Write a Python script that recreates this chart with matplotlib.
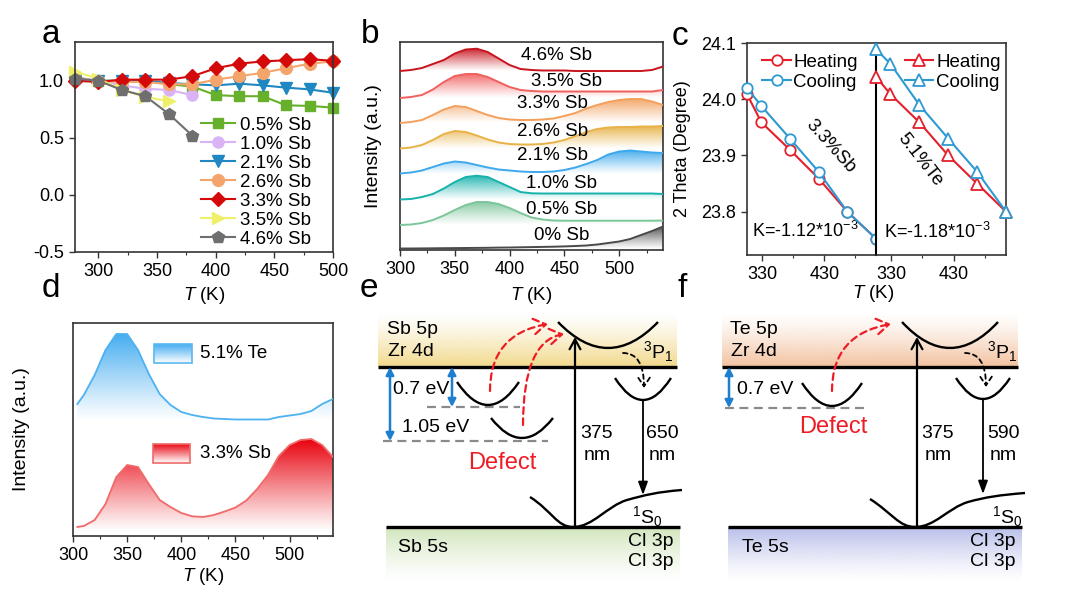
import numpy as np
import matplotlib
matplotlib.use('Agg')
import matplotlib.pyplot as plt
from matplotlib.path import Path
from matplotlib.patches import PathPatch, FancyArrowPatch, Rectangle
from matplotlib.colors import to_rgb
from matplotlib.ticker import MultipleLocator, FormatStrFormatter, FixedLocator

plt.rcParams['font.family'] = ['Liberation Sans', 'DejaVu Sans']
plt.rcParams['mathtext.fontset'] = 'custom'
plt.rcParams['mathtext.rm'] = 'Liberation Sans'
plt.rcParams['mathtext.it'] = 'Liberation Sans:italic'
plt.rcParams['axes.unicode_minus'] = False
plt.rcParams['font.size'] = 13

# ---------------- data ----------------
# a: normalised intensity vs temperature
a_T = [280, 300, 320, 340, 360, 380, 400, 420, 440, 460, 480, 500]
a_05 = [1.03, 1.00, 1.00, 1.00, 0.97, 0.95, 0.875, 0.865, 0.865, 0.785, 0.78, 0.765]
a_10 = [1.03, 1.00, 0.96, 0.93, 0.92, 0.875]
a_21 = [1.00, 1.00, 1.00, 1.00, 0.98, 0.97, 0.96, 0.975, 0.96, 0.94, 0.925, 0.895]
a_26 = [1.02, 1.00, 0.99, 0.99, 0.97, 0.97, 1.01, 1.04, 1.07, 1.11, 1.15, 1.17]
a_33 = [1.00, 0.99, 1.01, 1.01, 1.01, 1.04, 1.11, 1.15, 1.17, 1.18, 1.19, 1.175]
a_35 = [1.08, 1.02, 0.92, 0.86, 0.82]
a_46 = [1.02, 1.00, 0.92, 0.865, 0.71, 0.52]
a_labels = ['0.5% Sb', '1.0% Sb', '2.1% Sb', '2.6% Sb', '3.3% Sb', '3.5% Sb', '4.6% Sb']

# b: stacked thermoluminescence curves (a.u., offset included)
b_T = list(range(300, 541, 10))
b_00 = [1.5, 1.5, 1.6, 1.7, 1.8, 1.9, 2.0, 2.1, 2.2, 2.4, 2.5, 2.7, 2.9, 3.1, 3.3, 3.6, 4.0, 4.5, 5.5, 7.0, 8.5, 11, 15, 19, 23.5]
b_05 = [25, 25.5, 27, 30, 34.5, 40, 45, 48, 48, 46, 42, 37, 32.5, 30.5, 29.5, 29.3, 29.3, 29.3, 29.3, 29.3, 29.3, 29.3, 29.3, 29.3, 29.5]
b_10 = [50.5, 51, 53, 56, 61.5, 68, 73, 74.3, 73, 68, 63, 58, 56.7, 56.5, 56.5, 56.5, 56.5, 56.5, 56.5, 56.5, 56.5, 56.5, 56.5, 56.5, 56]
b_21 = [76.5, 77.5, 79.5, 83, 86.5, 88.5, 87.5, 85, 82.5, 80.5, 79.5, 78.5, 78, 78, 78.5, 80, 82.5, 86, 90, 95.5, 98.5, 99.5, 98.5, 97.5, 97]
b_26 = [101.5, 102.5, 105, 110, 116, 119, 118, 114.5, 110.5, 107.5, 106, 105.5, 105.5, 106, 107.5, 110, 114, 118, 121, 122.5, 123, 123, 123.5, 123.5, 124]
b_33 = [127, 128, 130, 135, 140.5, 144, 143, 139, 135, 132, 130.5, 130, 130, 130.5, 131.5, 134, 137, 141.5, 145, 148, 150, 151, 151, 148.5, 145]
b_35 = [152, 153, 155, 160.5, 168, 174, 176, 176, 173, 168, 163, 160, 159, 158.5, 158.5, 158.5, 158.5, 158.5, 158.5, 158.5, 158.5, 158.5, 158.5, 158.5, 160]
b_46 = [179, 180, 182, 186, 190, 196.5, 200.5, 201.3, 198, 191.5, 185, 181, 180, 179.5, 179.5, 179.5, 179, 179, 179, 179, 179, 179, 179, 180, 183.5]
b_labels = ['0% Sb', '0.5% Sb', '1.0% Sb', '2.1% Sb', '2.6% Sb', '3.3% Sb', '3.5% Sb', '4.6% Sb']

# c: 2 theta vs temperature
c_T = [306, 329, 375, 421, 467, 513]
c_sb_heat = [24.009, 23.959, 23.91, 23.859, 23.80, 23.752]
c_sb_cool = [24.02, 23.988, 23.93, 23.871, 23.80, 23.752]
c_te_heat = [24.04, 24.009, 23.959, 23.90, 23.85, 23.80]
c_te_cool = [24.089, 24.063, 23.99, 23.93, 23.871, 23.80]

# d: TL curves of two samples
d_T = [304] + list(range(310, 541, 10))
d_te = [132, 141, 161, 186, 202, 202, 186, 162, 142, 131, 124, 121, 119, 117.5, 117, 116.5, 116.5, 116.5, 116.5, 119, 120.5, 122, 125, 132, 137]
d_sb = [9, 10, 16, 32, 59, 71, 69, 52, 36, 29, 23, 19.7, 19, 21, 24.5, 28.5, 35.5, 47, 61, 80, 91, 96, 97, 91, 79]

# ---------------- helpers ----------------
W, H = 1080, 599
fig = plt.figure(figsize=(W / 100, H / 100), dpi=100)


def box(x0, y0, x1, y1):
    return fig.add_axes([x0 / W, 1 - y1 / H, (x1 - x0) / W, (y1 - y0) / H])


def style(ax):
    for s in ax.spines.values():
        s.set_color('#333333')
        s.set_linewidth(1.2)
    ax.tick_params(direction='out', length=4, width=1, labelsize=13, pad=4, color='#333333')
    ax.tick_params(which='minor', direction='out', length=2.5, width=0.8, color='#333333')


def grad_fill(ax, x, y, base, color, amax=1.0, z=1):
    x = np.asarray(x, float)
    y = np.asarray(y, float)
    verts = np.concatenate([np.column_stack([x, y]), [[x[-1], base], [x[0], base], [x[0], y[0]]]])
    clip = PathPatch(Path(verts), facecolor='none', edgecolor='none')
    ax.add_patch(clip)
    n = 256
    img = np.ones((n, 1, 4))
    img[..., :3] = to_rgb(color)
    img[:, 0, 3] = np.linspace(0, amax, n) ** 1.1
    im = ax.imshow(img, extent=[x[0], x[-1], base, y.max()], origin='lower',
                   aspect='auto', interpolation='bilinear', zorder=z)
    im.set_clip_path(clip)


# ---------------- panel a ----------------
axa = box(75, 42, 333, 252)
a_series = [a_05, a_10, a_21, a_26, a_33, a_35, a_46]
a_colors = ['#66b02c', '#d9b3f5', '#1f87c2', '#f4a56c', '#d40a0a', '#eef06a', '#6f6f6f']
a_marks = ['s', 'o', 'v', 'o', 'D', '>', 'p']
a_ms = [7.5, 8, 8, 8.5, 7.5, 8, 9]
for v, c, m, ms, lab in zip(a_series, a_colors, a_marks, a_ms, a_labels):
    axa.plot(a_T[:len(v)], v, color=c, marker=m, ms=ms, lw=1.5, label=lab, clip_on=False)
axa.set_xlim(280, 500)
axa.set_ylim(-0.5, 1.34)
axa.xaxis.set_major_locator(MultipleLocator(50))
axa.xaxis.set_minor_locator(MultipleLocator(25))
axa.set_yticks([-0.5, 0.0, 0.5, 1.0])
axa.yaxis.set_major_formatter(FormatStrFormatter('%.1f'))
style(axa)
axa.legend(loc='upper left', bbox_to_anchor=(0.49, 0.645), frameon=False, fontsize=13.5,
           borderpad=0, borderaxespad=0, handlelength=1.8, handletextpad=0.25,
           labelspacing=0.1, numpoints=1)
axa.set_xlabel(r'$T$ (K)', fontsize=13.5)
axa.xaxis.set_label_coords(0.5, -0.155)

# ---------------- panel b ----------------
axb = box(400, 42, 663, 250)
b_series = [b_00, b_05, b_10, b_21, b_26, b_33, b_35, b_46]
b_colors = ['#4a4a4a', '#7cc69b', '#17b2ac', '#3ea9ec', '#e8b247', '#f3a05c', '#f0605e', '#c8141e']
b_lab_xy = [(448, 15), (447, 41), (447, 67), (439, 95), (439, 119), (439, 146), (452, 169), (443, 195)]
for v, c, lab, (tx, ty) in zip(b_series, b_colors, b_labels, b_lab_xy):
    grad_fill(axb, b_T, v, min(v) - 0.5, c, amax=0.95)
    axb.plot(b_T, v, color=c, lw=1.4, zorder=3)
    axb.text(tx, ty, lab, ha='center', va='center', fontsize=13.5, zorder=4)
axb.set_xlim(300, 540)
axb.set_ylim(0, 208)
axb.xaxis.set_major_locator(MultipleLocator(50))
axb.xaxis.set_minor_locator(MultipleLocator(25))
axb.set_yticks([])
style(axb)
axb.set_xlabel(r'$T$ (K)', fontsize=13.5)
axb.xaxis.set_label_coords(0.5, -0.168)
axb.set_ylabel('Intensity (a.u.)', fontsize=14)
axb.yaxis.set_label_coords(-0.068, 0.5)

# ---------------- panel c ----------------
red, blue = '#e3202b', '#2d9ad2'
axc1 = box(747, 43, 876, 255)
axc2 = box(876, 43, 1006, 255)
axc1.plot(c_T, c_sb_heat, color=red, marker='o', mfc='white', ms=7.5, mew=1.3, lw=1.5, label='Heating', clip_on=False, zorder=3)
axc1.plot(c_T, c_sb_cool, color=blue, marker='o', mfc='white', ms=7.5, mew=1.3, lw=1.5, label='Cooling', clip_on=False, zorder=4)
axc2.plot(c_T, c_te_heat, color=red, marker='^', mfc='white', ms=8, mew=1.3, lw=1.5, label='Heating', clip_on=False, zorder=3)
axc2.plot(c_T, c_te_cool, color=blue, marker='^', mfc='white', ms=8, mew=1.3, lw=1.5, label='Cooling', clip_on=False, zorder=4)
for ax in (axc1, axc2):
    ax.set_xlim(306, 513)
    ax.set_ylim(23.723, 24.1)
    ax.set_xticks([330, 430])
    style(ax)
    ax.xaxis.set_minor_locator(FixedLocator([380, 480]))
axc1.set_yticks([23.8, 23.9, 24.0, 24.1])
axc1.yaxis.set_major_formatter(FormatStrFormatter('%.1f'))
axc2.set_yticks([])
axc1.spines['right'].set_visible(False)
axc2.spines['left'].set_color('black')
axc2.spines['left'].set_linewidth(1.5)
axc1.set_ylabel('2 Theta (Degree)', fontsize=13)
axc1.yaxis.set_label_coords(-0.435, 0.5)
axc1.legend(loc='upper left', bbox_to_anchor=(0.12, 0.95), frameon=False, fontsize=13.5,
            borderpad=0, borderaxespad=0, handlelength=1.5, handletextpad=0.15, labelspacing=0.15)
axc2.legend(loc='upper left', bbox_to_anchor=(0.225, 0.95), frameon=False, fontsize=13.5,
            borderpad=0, borderaxespad=0, handlelength=1.5, handletextpad=0.15, labelspacing=0.15)
axc1.text(441, 23.917, '3.3%Sb', rotation=-48, ha='center', va='center', fontsize=13.5)
axc2.text(376, 23.893, '5.1%Te', rotation=-52, ha='center', va='center', fontsize=13.5)
axc1.text(0.035, 0.115, r'K=-1.12*10$^{-3}$', transform=axc1.transAxes, ha='left', va='center', fontsize=13)
axc2.text(0.06, 0.11, r'K=-1.18*10$^{-3}$', transform=axc2.transAxes, ha='left', va='center', fontsize=13)
fig.text(873 / W, 1 - 294 / H, r'$T$ (K)', ha='center', va='center', fontsize=13.5)

# ---------------- panel d ----------------
axd = box(73, 323, 333, 536)
grad_fill(axd, d_T, d_te, 115, '#3aa8f0', amax=0.95)
axd.plot(d_T, d_te, color='#4cb2f0', lw=1.3, zorder=3)
grad_fill(axd, d_T, d_sb, 4, '#e8000c', amax=1.0)
axd.plot(d_T, d_sb, color='#f06a6a', lw=1.3, zorder=3)
axd.xaxis.set_major_locator(MultipleLocator(50))
axd.xaxis.set_minor_locator(MultipleLocator(25))
axd.set_yticks([])
style(axd)
axd.set_xlabel(r'$T$ (K)', fontsize=13.5)
axd.xaxis.set_label_coords(0.5, -0.141)
axd.set_ylabel('Intensity (a.u.)', fontsize=14)
axd.yaxis.set_label_coords(-0.165, 0.5)
for (x0, x1, y0, y1), c, ec, lab in [((0.312, 0.458, 0.812, 0.901), '#3aa8f0', '#5ab8f0', '5.1% Te'),
                                     ((0.308, 0.45, 0.343, 0.432), '#e8000c', '#f06a6a', '3.3% Sb')]:
    img = np.ones((64, 1, 4))
    img[..., :3] = to_rgb(c)
    img[:, 0, 3] = np.linspace(0.0, 0.95, 64)
    axd.imshow(img, extent=[x0, x1, y0, y1], origin='lower', aspect='auto',
               transform=axd.transAxes, zorder=4)
    axd.add_patch(Rectangle((x0, y0), x1 - x0, y1 - y0, transform=axd.transAxes,
                            fill=False, ec=ec, lw=1.2, zorder=5))
    axd.text(0.488, (y0 + y1) / 2, lab, transform=axd.transAxes, ha='left', va='center', fontsize=13.5)
axd.set_xlim(300, 540)
axd.set_ylim(0, 213)


# ---------------- panels e, f (energy schemes) ----------------
def band(ax, x0, x1, y_line, y_fade, color):
    img = np.ones((64, 1, 4))
    img[..., :3] = to_rgb(color)
    img[:, 0, 3] = np.linspace(1, 0, 64) ** 1.3
    ax.imshow(img, extent=[x0, x1, y_line, y_fade], origin='lower', aspect='auto', zorder=0)
    ax.plot([x0, x1], [y_line, y_line], color='k', lw=2.4, solid_capstyle='butt', zorder=2)


def well(ax, x0, ymin, hw, rise, lw=1.7):
    p = Path([(x0 - hw, ymin - rise), (x0, ymin + rise), (x0 + hw, ymin - rise)],
             [Path.MOVETO, Path.CURVE3, Path.CURVE3])
    ax.add_patch(PathPatch(p, fc='none', ec='k', lw=lw, zorder=3))


def scheme(ax, p):
    ax.set_xlim(0, 360)
    ax.set_ylim(309, 0)
    ax.axis('off')
    band(ax, p['top'][0], p['top'][1], 77, 22, p['top_c'])
    band(ax, p['bot'][0], p['bot'][1], 237, 292, p['bot_c'])
    ax.text(p['vb'][0], 40, p['vb'][1], ha='left', va='center', fontsize=14)
    ax.text(p['vb'][0] + 1, 62, 'Zr 4d', ha='left', va='center', fontsize=14)
    ax.text(p['cb'][0], 257, p['cb'][1], ha='left', va='center', fontsize=14)
    ax.text(p['cl'], 251, 'Cl 3p', ha='right', va='center', fontsize=14)
    ax.text(p['cl'], 271, 'Cl 3p', ha='right', va='center', fontsize=14)
    for x0, x1, y in p['dash']:
        ax.plot([x0, x1], [y, y], color='#8a8a8a', lw=1.6, ls=(0, (4, 2.5)), zorder=1)
    for x, y0, y1 in p['barrow']:
        ax.annotate('', xy=(x, y1), xytext=(x, y0),
                    arrowprops=dict(arrowstyle='<|-|>,head_length=0.35,head_width=0.18',
                                    color='#1f7fcf', lw=1.8, shrinkA=0, shrinkB=0))
    for lab, x, y in p['ev']:
        ax.text(x, y, lab, ha='left', va='center', fontsize=14)
    for w in p['defects']:
        well(ax, *w)
    for a0, a1 in p['rarrow']:
        ax.add_patch(FancyArrowPatch(a0, a1, arrowstyle='->,head_length=0.55,head_width=0.35',
                                     connectionstyle='angle3,angleA=90,angleB=10',
                                     mutation_scale=16, color='#ee1c25', lw=1.6, ls=(0, (3, 2)),
                                     shrinkA=0, shrinkB=0, zorder=4))
    ax.text(p['defect_txt'][0], p['defect_txt'][1], 'Defect', color='#ee1c25',
            ha='center', va='center', fontsize=17)
    well(ax, *p['p1'])
    ax.text(p['p1_lab'][0], p['p1_lab'][1], r'$^{3}$P$_{1}$', ha='left', va='center', fontsize=14)
    well(ax, *p['small'])
    ax.add_patch(FancyArrowPatch(p['karrow'][0], p['karrow'][1],
                                 arrowstyle='->,head_length=0.45,head_width=0.3',
                                 connectionstyle='angle3,angleA=0,angleB=90', mutation_scale=14,
                                 color='k', lw=1.3, ls=(0, (2.5, 2)), shrinkA=0, shrinkB=0, zorder=4))
    ux = p['up_x']
    ax.annotate('', xy=(ux, 47), xytext=(ux, 237),
                arrowprops=dict(arrowstyle='->,head_length=0.55,head_width=0.3', color='k',
                                lw=1.6, shrinkA=0, shrinkB=0))
    ax.text(p['up_txt'], 143, '375', ha='center', va='center', fontsize=14)
    ax.text(p['up_txt'], 165, 'nm', ha='center', va='center', fontsize=14)
    dx, dy0, dy1 = p['down']
    ax.annotate('', xy=(dx, dy1), xytext=(dx, dy0),
                arrowprops=dict(arrowstyle='-|>,head_length=0.6,head_width=0.22', color='k',
                                lw=1.3, shrinkA=0, shrinkB=0))
    ax.text(p['down_txt'][0], 143, p['down_txt'][1], ha='center', va='center', fontsize=14)
    ax.text(p['down_txt'][0], 165, 'nm', ha='center', va='center', fontsize=14)
    g = p['ground']
    verts = [g[0], (g[0][0] + 22, g[0][1] + 14), (g[1][0] - 16, g[1][1]), g[1],
             (g[1][0] + 20, g[1][1]), (g[2][0] - 20, g[2][1] + 6), g[2],
             (g[2][0] + 18, g[2][1] - 5), (g[3][0] - 25, g[3][1] + 2), g[3]]
    codes = [Path.MOVETO] + [Path.CURVE4] * 9
    ax.add_patch(PathPatch(Path(verts, codes), fc='none', ec='k', lw=1.7, zorder=3))
    ax.text(272, 227, r'$^{1}$S$_{0}$', ha='left', va='center', fontsize=14)


e_p = dict(top=(18, 317), top_c='#f2d98c', bot=(26, 320), bot_c='#d2e6bd',
           vb=(27, 'Sb 5p'), cb=(38, 'Sb 5s'), cl=313,
           dash=[(67, 160, 117), (23, 188, 151)],
           barrow=[(30, 77, 151), (92, 77, 117)],
           ev=[('0.7 eV', 33, 100), ('1.05 eV', 42, 138)],
           defects=[(128, 115, 31, 23), (162, 148, 31, 20)],
           rarrow=[((130, 101), (188, 34)), ((163, 135), (204, 44))],
           defect_txt=(142, 173), p1=(248, 58, 50, 26), p1_lab=(283, 62),
           small=(283, 110, 28, 22), karrow=((263, 63), (284, 98)),
           up_x=215, up_txt=237, down=(283, 111, 205), down_txt=(302, '650'),
           ground=[(170, 207), (213, 237), (267, 210), (322, 200)])
f_p = dict(top=(2, 298), top_c='#f3c2a0', bot=(8, 302), bot_c='#b9bfea',
           vb=(10, 'Te 5p'), cb=(22, 'Te 5s'), cl=295,
           dash=[(5, 148, 118)],
           barrow=[(9, 77, 118)],
           ev=[('0.7 eV', 17, 100)],
           defects=[(112, 116, 30, 23)],
           rarrow=[((112, 101), (171, 34))],
           defect_txt=(113, 137), p1=(230, 58, 48, 26), p1_lab=(267, 62),
           small=(263, 109, 27, 21), karrow=((245, 63), (266, 97)),
           up_x=197, up_txt=218, down=(263, 110, 204), down_txt=(283, '590'),
           ground=[(150, 209), (195, 237), (248, 212), (305, 203)])
axe = box(360, 290, 720, 599)
scheme(axe, e_p)
axf = box(720, 290, 1080, 599)
scheme(axf, f_p)

# ---------------- panel letters ----------------
for lab, x, y in [('a', 42, 43), ('b', 361, 43), ('c', 672, 45), ('d', 42, 297), ('e', 360, 297), ('f', 678, 297)]:
    fig.text(x / W, 1 - y / H, lab, ha='left', va='baseline', fontsize=24)

fig.savefig('out.png', dpi=100)
